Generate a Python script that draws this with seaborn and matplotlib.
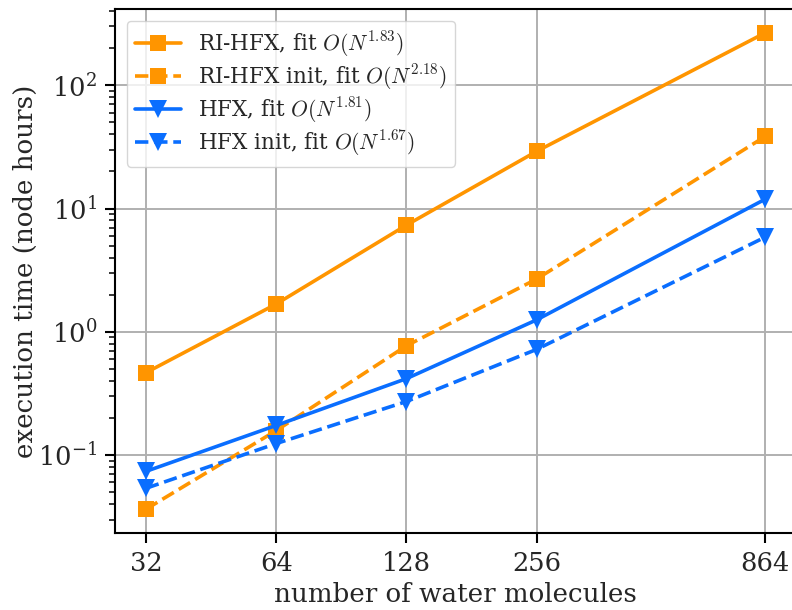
import numpy as np
import pandas as pd
import matplotlib
matplotlib.use("Agg")
import matplotlib.pyplot as plt
import seaborn as sns
from matplotlib.ticker import FixedLocator, FixedFormatter, NullLocator

n_water = [32, 64, 128, 256, 864]
ri_hfx = [0.466, 1.68, 7.33, 29.1, 266]
ri_hfx_init = [0.0364, 0.158, 0.77, 2.68, 38.4]
hfx = [0.0738, 0.174, 0.417, 1.25, 11.9]
hfx_init = [0.0538, 0.124, 0.272, 0.72, 5.86]

labels = [r"RI-HFX, fit $O(N^{1.83})$",
          r"RI-HFX init, fit $O(N^{2.18})$",
          r"HFX, fit $O(N^{1.81})$",
          r"HFX init, fit $O(N^{1.67})$"]
x_ticks = [32, 64, 128, 256, 864]
x_ticklabels = ["32", "64", "128", "256", "864"]

orange = "#FF9500"
blue = "#0A6EFF"

sns.set_theme(style="ticks")
plt.rcParams["font.family"] = ["DejaVu Serif"]
plt.rcParams["mathtext.fontset"] = "cm"

fig = plt.figure(figsize=(7.92, 6.10), dpi=100)
ax = fig.add_axes([0.1452, 0.1262, 0.860, 0.859])

series = [
    (ri_hfx, labels[0], orange, "-", "s", 12),
    (ri_hfx_init, labels[1], orange, "--", "s", 12),
    (hfx, labels[2], blue, "-", "v", 13.5),
    (hfx_init, labels[3], blue, "--", "v", 13.5),
]
for vals, lab, col, ls, mk, ms in series:
    df = pd.DataFrame({"N": n_water, "t": vals})
    sns.lineplot(data=df, x="N", y="t", ax=ax, color=col, linestyle=ls,
                 marker=mk, markersize=ms, markeredgewidth=0, linewidth=2.6,
                 label=lab)

ax.set_xscale("log")
ax.set_yscale("log")
ax.xaxis.set_major_locator(FixedLocator(x_ticks))
ax.xaxis.set_major_formatter(FixedFormatter(x_ticklabels))
ax.xaxis.set_minor_locator(NullLocator())
ax.grid(True, which="major", color="#b0b0b0", linewidth=1.4)
ax.set_axisbelow(True)

for s in ax.spines.values():
    s.set_linewidth(1.5)
    s.set_color("black")
ax.tick_params(axis="both", which="major", labelsize=18.5, length=7, width=1.5,
               pad=6, direction="out", color="black")
ax.tick_params(axis="y", which="minor", length=4, width=1.1, color="black")

ax.set_xlabel("number of water molecules", fontsize=18.8, labelpad=4)
ax.set_ylabel("execution time (node hours)", fontsize=18.8, labelpad=0)

leg = ax.legend(loc="upper left", fontsize=15.5, frameon=True, fancybox=True,
                framealpha=0.8, edgecolor="#cccccc", borderaxespad=0.55,
                labelspacing=0.15, handlelength=2.1)

fig.savefig("out.png", dpi=100)
